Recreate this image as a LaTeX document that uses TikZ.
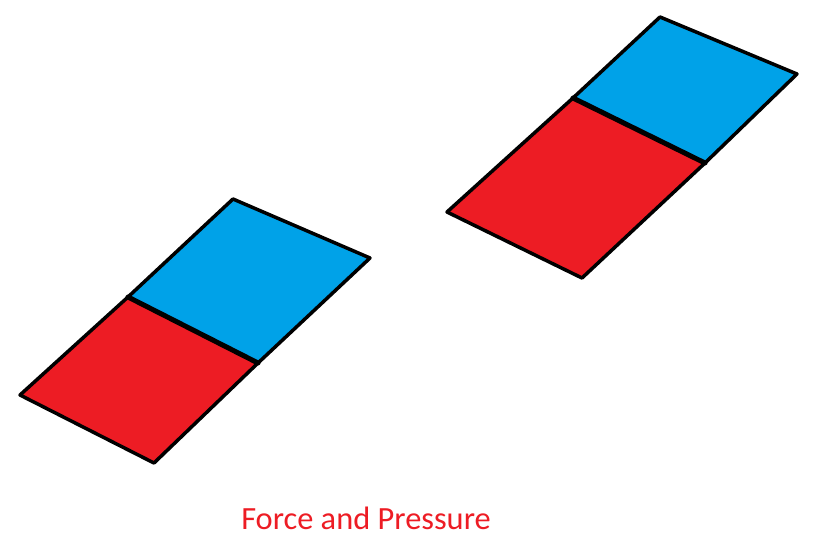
\documentclass[tikz,border=0pt]{standalone}
\usepackage{fontspec}
\setmainfont{Carlito}
\definecolor{paintred}{HTML}{ED1C24}
\definecolor{paintblue}{HTML}{00A2E8}
\usetikzlibrary{positioning}

\begin{document}
\begin{tikzpicture}[x=1pt, y=-1pt,
    plate/.style={draw=black, line width=3.5pt, line join=round},
    seam/.style={draw=black, line width=5pt, line cap=round},
    caption/.style={text=paintred, font=\fontsize{32.4}{38}\selectfont}]
    \useasboundingbox (0,0) rectangle (816,555);
    % red half below, blue half above, one plate each
    \foreach \rl/\rb/\mr/\ml/\bt/\br in {%
      {20,395}/{154,463}/{258,363}/{128,297}/{233,199}/{370,258},
      {447,212}/{582,278}/{705,163}/{573,98}/{660,17}/{797,74}}{%
      \filldraw[plate, fill=paintred]  (\rl) -- (\rb) -- (\mr) -- (\ml) -- cycle;
      \filldraw[plate, fill=paintblue] (\ml) -- (\mr) -- (\br) -- (\bt) -- cycle;
      \draw[seam] (\ml) -- (\mr);
    }
    \node[caption] (title) at (366,518) {Force and Pressure};
  \end{tikzpicture}
\end{document}
